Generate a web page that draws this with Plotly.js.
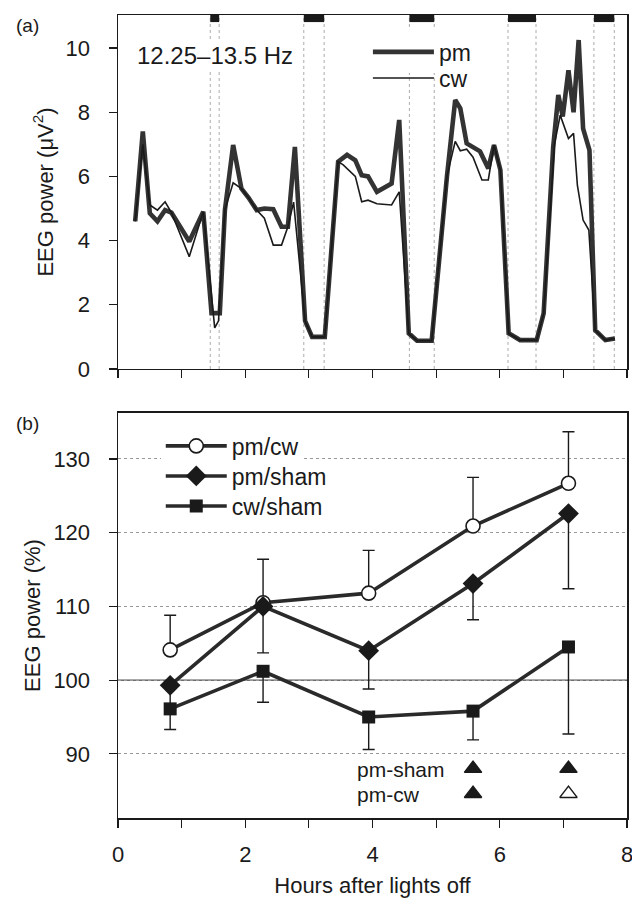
<!DOCTYPE html>
<html><head><meta charset="utf-8">
<script src="https://cdn.plot.ly/plotly-3.0.1.min.js"></script>
<style>html,body{margin:0;padding:0;background:#fff}#chart{width:632px;height:898px}</style>
</head><body><div id="chart"></div>
<script>
// ---- Panel (a): time course, 12.25–13.5 Hz ----
const hoursPM = [0.27,0.39,0.50,0.62,0.74,0.84,1.12,1.24,1.34,1.47,1.60,1.68,1.81,1.94,2.05,2.18,2.30,2.44,2.57,2.67,2.78,2.94,3.05,3.25,3.39,3.46,3.60,3.73,3.83,3.93,4.07,4.30,4.42,4.57,4.70,4.93,5.17,5.30,5.38,5.48,5.69,5.82,5.91,6.01,6.14,6.32,6.58,6.69,6.84,6.92,6.99,7.08,7.16,7.24,7.31,7.41,7.50,7.66,7.81];
const pm = [4.6,7.4,4.85,4.6,4.95,4.87,3.97,4.5,4.9,1.74,1.74,4.95,6.98,5.62,5.34,4.95,5.0,4.98,4.43,4.43,6.92,1.5,1.0,1.0,4.85,6.46,6.67,6.5,6.04,6.0,5.52,5.78,7.76,1.11,0.88,0.88,6.0,8.38,8.12,7.03,6.78,6.25,6.98,6.2,1.11,0.9,0.9,1.73,6.92,8.54,7.87,9.31,8.0,10.25,7.49,6.82,1.21,0.9,0.95];
const hoursCW = [0.27,0.39,0.50,0.62,0.74,0.84,1.12,1.24,1.34,1.52,1.58,1.68,1.81,1.94,2.05,2.18,2.30,2.44,2.57,2.67,2.76,2.94,3.05,3.25,3.39,3.46,3.54,3.73,3.83,3.93,4.07,4.30,4.42,4.57,4.70,4.93,5.17,5.30,5.38,5.48,5.58,5.72,5.82,5.91,6.01,6.14,6.32,6.58,6.69,6.86,6.95,7.08,7.16,7.22,7.31,7.40,7.50,7.66,7.81];
const cw = [4.6,7.0,5.11,4.95,5.21,4.87,3.5,4.3,4.9,1.28,1.5,4.95,5.8,5.62,5.34,4.95,4.7,3.86,3.86,4.43,5.2,1.5,1.0,1.0,4.85,6.46,6.36,6.0,5.21,5.26,5.15,5.11,5.52,1.11,0.88,0.88,6.0,7.09,6.8,6.85,6.6,5.89,5.89,6.98,6.2,1.11,0.9,0.9,1.73,7.0,7.91,7.18,7.34,5.73,4.64,4.33,1.21,0.9,0.95];
const remStart = [1.45,2.92,4.58,6.13,7.48];
const remEnd   = [1.59,3.24,4.97,6.57,7.80];

// ---- Panel (b): relative power ----
const hoursB = [0.82,2.28,3.94,5.58,7.08];
const pmCw = [104.1,110.5,111.8,120.9,126.7];
const pmCwErr = [4.7,5.9,5.8,6.6,7.0];
const pmSham = [99.3,110.0,104.0,113.1,122.6];
const pmShamErr = [3.0,6.3,5.2,4.9,10.2];
const cwSham = [96.1,101.2,95.0,95.8,104.5];
const cwShamErr = [2.8,4.2,4.4,3.9,11.8];
const sigHours = [5.58,7.08];
const sigPmShamSymbols = ['triangle-up','triangle-up'];
const sigPmCwSymbols = ['triangle-up','triangle-up-open'];
const sigRowLabels = ['pm-sham','pm-cw'];
const sigRowY = [88.0,84.6];

const FONT = 'Liberation Sans, Arial, sans-serif';
const INK = '#1a1a1a';
const zeros = a => a.map(() => 0);

const traces = [
  {x:hoursPM, y:pm, name:'pm', mode:'lines', line:{color:'#333', width:4.6}, xaxis:'x', yaxis:'y', legend:'legend'},
  {x:hoursCW, y:cw, name:'cw', mode:'lines', line:{color:INK, width:1.6}, xaxis:'x', yaxis:'y', legend:'legend2'},
  {x:hoursB, y:pmCw, name:'pm/cw', mode:'lines+markers', line:{color:'#2a2a2a', width:3.6},
   marker:{symbol:'circle', size:14, color:'#fff', line:{color:INK, width:1.6}},
   error_y:{type:'data', symmetric:false, array:pmCwErr, arrayminus:zeros(pmCwErr), color:INK, thickness:1.4, width:6},
   xaxis:'x2', yaxis:'y2', legend:'legend3'},
  {x:hoursB, y:pmSham, name:'pm/sham', mode:'lines+markers', line:{color:'#2a2a2a', width:3.6},
   marker:{symbol:'diamond', size:16, color:INK},
   error_y:{type:'data', symmetric:false, array:zeros(pmShamErr), arrayminus:pmShamErr, color:INK, thickness:1.4, width:6},
   xaxis:'x2', yaxis:'y2', legend:'legend4'},
  {x:hoursB, y:cwSham, name:'cw/sham', mode:'lines+markers', line:{color:'#2a2a2a', width:3.6},
   marker:{symbol:'square', size:13, color:INK},
   error_y:{type:'data', symmetric:false, array:zeros(cwShamErr), arrayminus:cwShamErr, color:INK, thickness:1.4, width:6},
   xaxis:'x2', yaxis:'y2', legend:'legend5'},
  {x:sigHours, y:sigHours.map(()=>sigRowY[0]), mode:'markers', showlegend:false,
   marker:{symbol:sigPmShamSymbols, size:15, color:INK, line:{color:INK, width:1.5}}, xaxis:'x2', yaxis:'y2'},
  {x:sigHours, y:sigHours.map(()=>sigRowY[1]), mode:'markers', showlegend:false,
   marker:{symbol:sigPmCwSymbols, size:15, color:INK, line:{color:INK, width:1.5}}, xaxis:'x2', yaxis:'y2'}
];

const shapes = [];
remStart.concat(remEnd).forEach(v => shapes.push({type:'line', xref:'x', yref:'y domain', x0:v, x1:v, y0:0, y1:1,
  line:{color:'#aaa', width:1, dash:'dot'}, layer:'below'}));
remStart.forEach((s,i) => shapes.push({type:'rect', xref:'x', yref:'y domain', x0:s, x1:remEnd[i], y0:0.98, y1:1,
  fillcolor:INK, line:{width:0}}));
shapes.push({type:'line', xref:'x2 domain', yref:'y2', x0:0, x1:1, y0:100, y1:100, line:{color:INK, width:1}, layer:'below'});

const axisCommon = {showline:true, linecolor:INK, linewidth:1.5, mirror:true, ticks:'outside', ticklen:8, tickwidth:1.2,
  tickcolor:INK, zeroline:false, tickfont:{family:FONT, size:22, color:INK}};
const legFont = {family:FONT, size:23, color:INK};
const mkLegend = (xp, yp, bg) => ({x:xp, y:yp, xanchor:'left', yanchor:'middle', bgcolor:bg, borderwidth:0,
  font:legFont, itemwidth:61});

const layout = {
  width:632, height:898, paper_bgcolor:'#fff', plot_bgcolor:'#fff',
  margin:{l:118, r:5, t:15, b:80},
  font:{family:FONT, color:INK},
  showlegend:true,
  xaxis:Object.assign({}, axisCommon, {domain:[0,1], anchor:'y', range:[0,8], tickvals:[0,1,2,3,4,5,6,7,8], showticklabels:false, showgrid:false}),
  yaxis:Object.assign({}, axisCommon, {domain:[0.5592,1], anchor:'x', range:[0,11.03], tickvals:[0,2,4,6,8,10], showgrid:false,
    ticklabelstandoff:14,
    title:{text:'EEG power (μV<sup>2</sup>)', font:{family:FONT, size:22, color:INK}, standoff:6}}),
  xaxis2:Object.assign({}, axisCommon, {domain:[0,1], anchor:'y2', range:[0,8], tickvals:[0,2,4,6,8],
    ticktext:['0','2','4','6','8'], ticklabeloverflow:'allow', showgrid:false, ticklabelstandoff:8,
    minor:{tickvals:[1,3,5,7], ticks:'outside', ticklen:8, tickwidth:1.2, tickcolor:INK, showgrid:false},
    title:{text:'Hours after lights off', font:{family:FONT, size:22, color:INK}, standoff:14}}),
  yaxis2:Object.assign({}, axisCommon, {domain:[0,0.5044], anchor:'x2', range:[81.3,136.24], tickvals:[90,100,110,120,130],
    showgrid:true, gridcolor:'#999', griddash:'dot', gridwidth:1, ticklabelstandoff:14,
    title:{text:'EEG power (%)', font:{family:FONT, size:22, color:INK}, standoff:6}}),
  legend:mkLegend(0.491, 0.954, '#fff'),
  legend2:mkLegend(0.491, 0.9215, 'rgba(0,0,0,0)'),
  legend3:mkLegend(0.084, 0.4633, '#fff'),
  legend4:mkLegend(0.084, 0.4259, 'rgba(0,0,0,0)'),
  legend5:mkLegend(0.084, 0.3885, 'rgba(0,0,0,0)'),
  shapes:shapes,
  annotations:[
    {text:'12.25–13.5 Hz', xref:'paper', yref:'paper', x:0.033, y:0.950, xanchor:'left', yanchor:'middle', showarrow:false,
     bgcolor:'#fff', font:{family:FONT, size:24, color:INK}},
    {text:'(a)', xref:'paper', yref:'paper', x:-0.205, y:0.9875, xanchor:'left', yanchor:'middle', showarrow:false,
     font:{family:FONT, size:19, color:INK}},
    {text:'(b)', xref:'paper', yref:'paper', x:-0.205, y:0.4907, xanchor:'left', yanchor:'middle', showarrow:false,
     font:{family:FONT, size:19, color:INK}}
  ].concat(sigRowLabels.map((t,i) => ({text:t, xref:'x2', yref:'y2', x:3.73, y:sigRowY[i], xanchor:'left', yanchor:'middle',
     showarrow:false, height:24, font:{family:FONT, size:21, color:INK}})))
};

Plotly.newPlot('chart', traces, layout, {displayModeBar:false, staticPlot:true});
</script>
</body></html>
